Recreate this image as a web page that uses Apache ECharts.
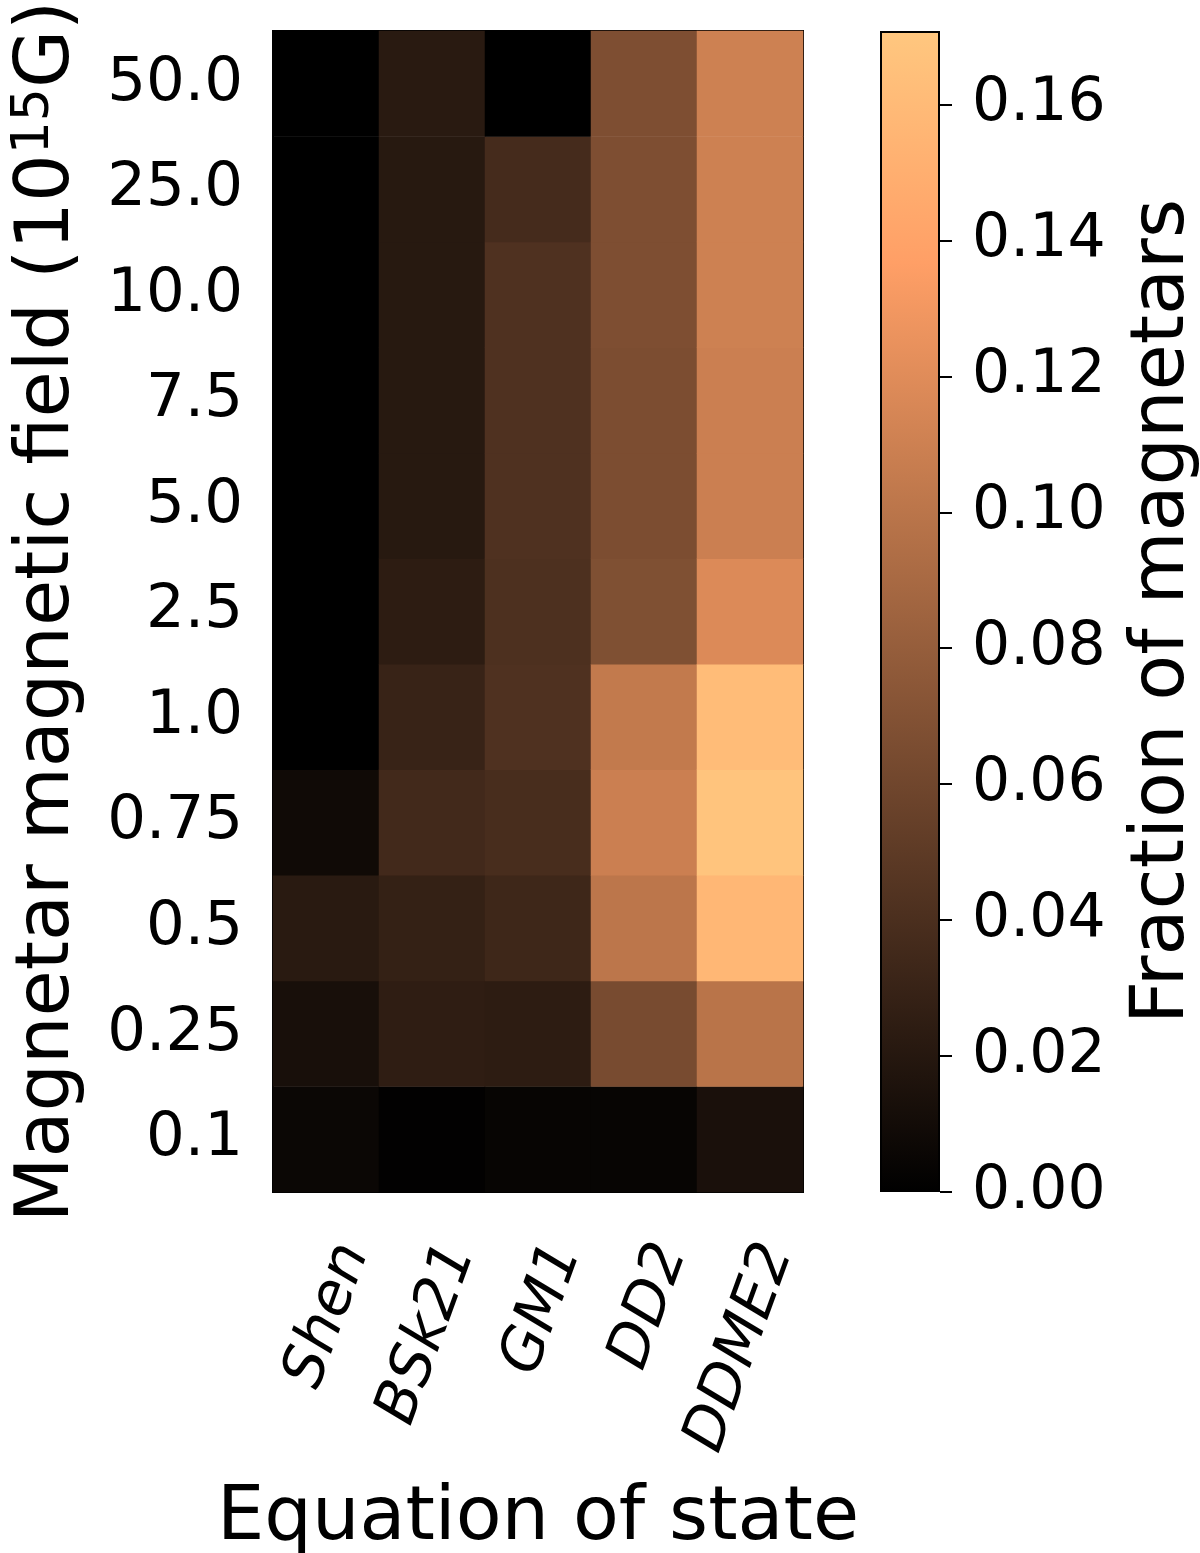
<!DOCTYPE html>
<html>
<head>
<meta charset="utf-8">
<script src="https://cdn.jsdelivr.net/npm/echarts@6/dist/echarts.min.js"></script>
<style>
  html, body { margin: 0; padding: 0; background: #fff; }
  #chart { width: 1200px; height: 1553px; }
</style>
</head>
<body>
<div id="chart"></div>
<script>
// equations of state (x) and field strengths (y, bottom to top)
const eosNames = ['Shen', 'BSk21', 'GM1', 'DD2', 'DDME2'];
const fieldLabels = ['0.1', '0.25', '0.5', '0.75', '1.0', '2.5', '5.0', '7.5', '10.0', '25.0', '50.0'];

// fraction of magnetars per EOS, one value per field (bottom to top)
const shen  = [0.006, 0.013, 0.022, 0.0085, 0, 0, 0, 0, 0, 0, 0];
const bsk21 = [0.001, 0.025, 0.028, 0.035, 0.030, 0.024, 0.021, 0.021, 0.021, 0.021, 0.022];
const gm1   = [0.004, 0.024, 0.033, 0.0385, 0.042, 0.041, 0.042, 0.042, 0.042, 0.037, 0];
const dd2   = [0.004, 0.064, 0.101, 0.109, 0.104, 0.068, 0.066, 0.066, 0.067, 0.067, 0.067];
const ddme2 = [0.014, 0.099, 0.157, 0.168, 0.161, 0.118, 0.109, 0.109, 0.110, 0.110, 0.110];

const cbTicks = [0, 0.02, 0.04, 0.06, 0.08, 0.10, 0.12, 0.14, 0.16];
const vmax = 0.1708;

// matplotlib "copper" sampled at 0, .2, .4, .6, .8, 1 (linear between)
const copper = ['#000000', '#40281a', '#805033', '#bf784c', '#ff9f66', '#ffc77f'];

const columns = [shen, bsk21, gm1, dd2, ddme2];
const cells = [];
columns.forEach((col, i) => {
  col.forEach((v, j) => cells.push([i, j, v]));
});

const font = 'DejaVu Sans';
const chart = echarts.init(document.getElementById('chart'));

chart.setOption({
  backgroundColor: '#fff',
  animation: false,
  textStyle: { fontFamily: font, color: '#000' },
  grid: [
    { left: 273, width: 530, top: 31, bottom: 361, outerBoundsMode: 'none', containLabel: false,
      show: true, borderColor: '#000', borderWidth: 2, backgroundColor: 'transparent' },
    { left: 880, width: 60, top: 31, bottom: 361, outerBoundsMode: 'none', containLabel: false }
  ],
  xAxis: [
    {
      type: 'category', gridIndex: 0, data: eosNames,
      axisLine: { lineStyle: { color: '#000', width: 2 } },
      axisTick: { alignWithLabel: true, length: 12, lineStyle: { color: '#000', width: 2 } },
      axisLabel: {
        rotate: 70, fontSize: 59, fontStyle: 'italic', color: '#000', margin: 44, fontFamily: font,
        align: 'right', verticalAlign: 'top'
      },
      name: 'Equation of state', nameLocation: 'middle', nameGap: 290,
      nameTextStyle: { fontSize: 75, color: '#000', fontFamily: font }
    },
    { type: 'category', gridIndex: 1, data: ['cb'], show: false }
  ],
  yAxis: [
    {
      type: 'category', gridIndex: 0, data: fieldLabels,
      axisLine: { lineStyle: { color: '#000', width: 2 } },
      axisTick: { alignWithLabel: true, length: 12, lineStyle: { color: '#000', width: 2 } },
      axisLabel: { fontSize: 61, color: '#000', margin: 30, fontFamily: font },
      name: 'Magnetar magnetic field (10{sup|15}G)', nameLocation: 'middle', nameGap: 183,
      nameTextStyle: {
        fontSize: 75, color: '#000', fontFamily: font,
        rich: { sup: { fontSize: 52, fontFamily: font, color: '#000', padding: [0, 0, 30, 0] } }
      }
    },
    {
      type: 'value', gridIndex: 1, position: 'right', min: 0, max: vmax, interval: 0.02,
      axisLine: { show: false },
      axisTick: { show: true, length: 12, lineStyle: { color: '#000', width: 2 } },
      splitLine: { show: false },
      axisLabel: {
        fontSize: 60, color: '#000', margin: 32, fontFamily: font,
        showMaxLabel: false,
        formatter: v => cbTicks.some(t => Math.abs(t - v) < 1e-9) ? v.toFixed(2) : ''
      },
      name: 'Fraction of magnetars', nameLocation: 'middle', nameGap: 186, nameRotate: 90,
      nameTextStyle: { fontSize: 75, color: '#000', fontFamily: font }
    }
  ],
  visualMap: {
    show: false, type: 'continuous', min: 0, max: vmax, seriesIndex: 0,
    inRange: { color: copper }
  },
  series: [
    {
      type: 'heatmap', xAxisIndex: 0, yAxisIndex: 0, data: cells,
      itemStyle: { borderWidth: 0 }
    },
    {
      type: 'bar', xAxisIndex: 1, yAxisIndex: 1, data: [vmax], barWidth: '100%',
      itemStyle: {
        borderColor: '#000', borderWidth: 2,
        color: new echarts.graphic.LinearGradient(0, 0, 0, 1,
          copper.slice().reverse().map((c, i) => ({ offset: i / (copper.length - 1), color: c })))
      },
      silent: true
    }
  ]
});
</script>
</body>
</html>
